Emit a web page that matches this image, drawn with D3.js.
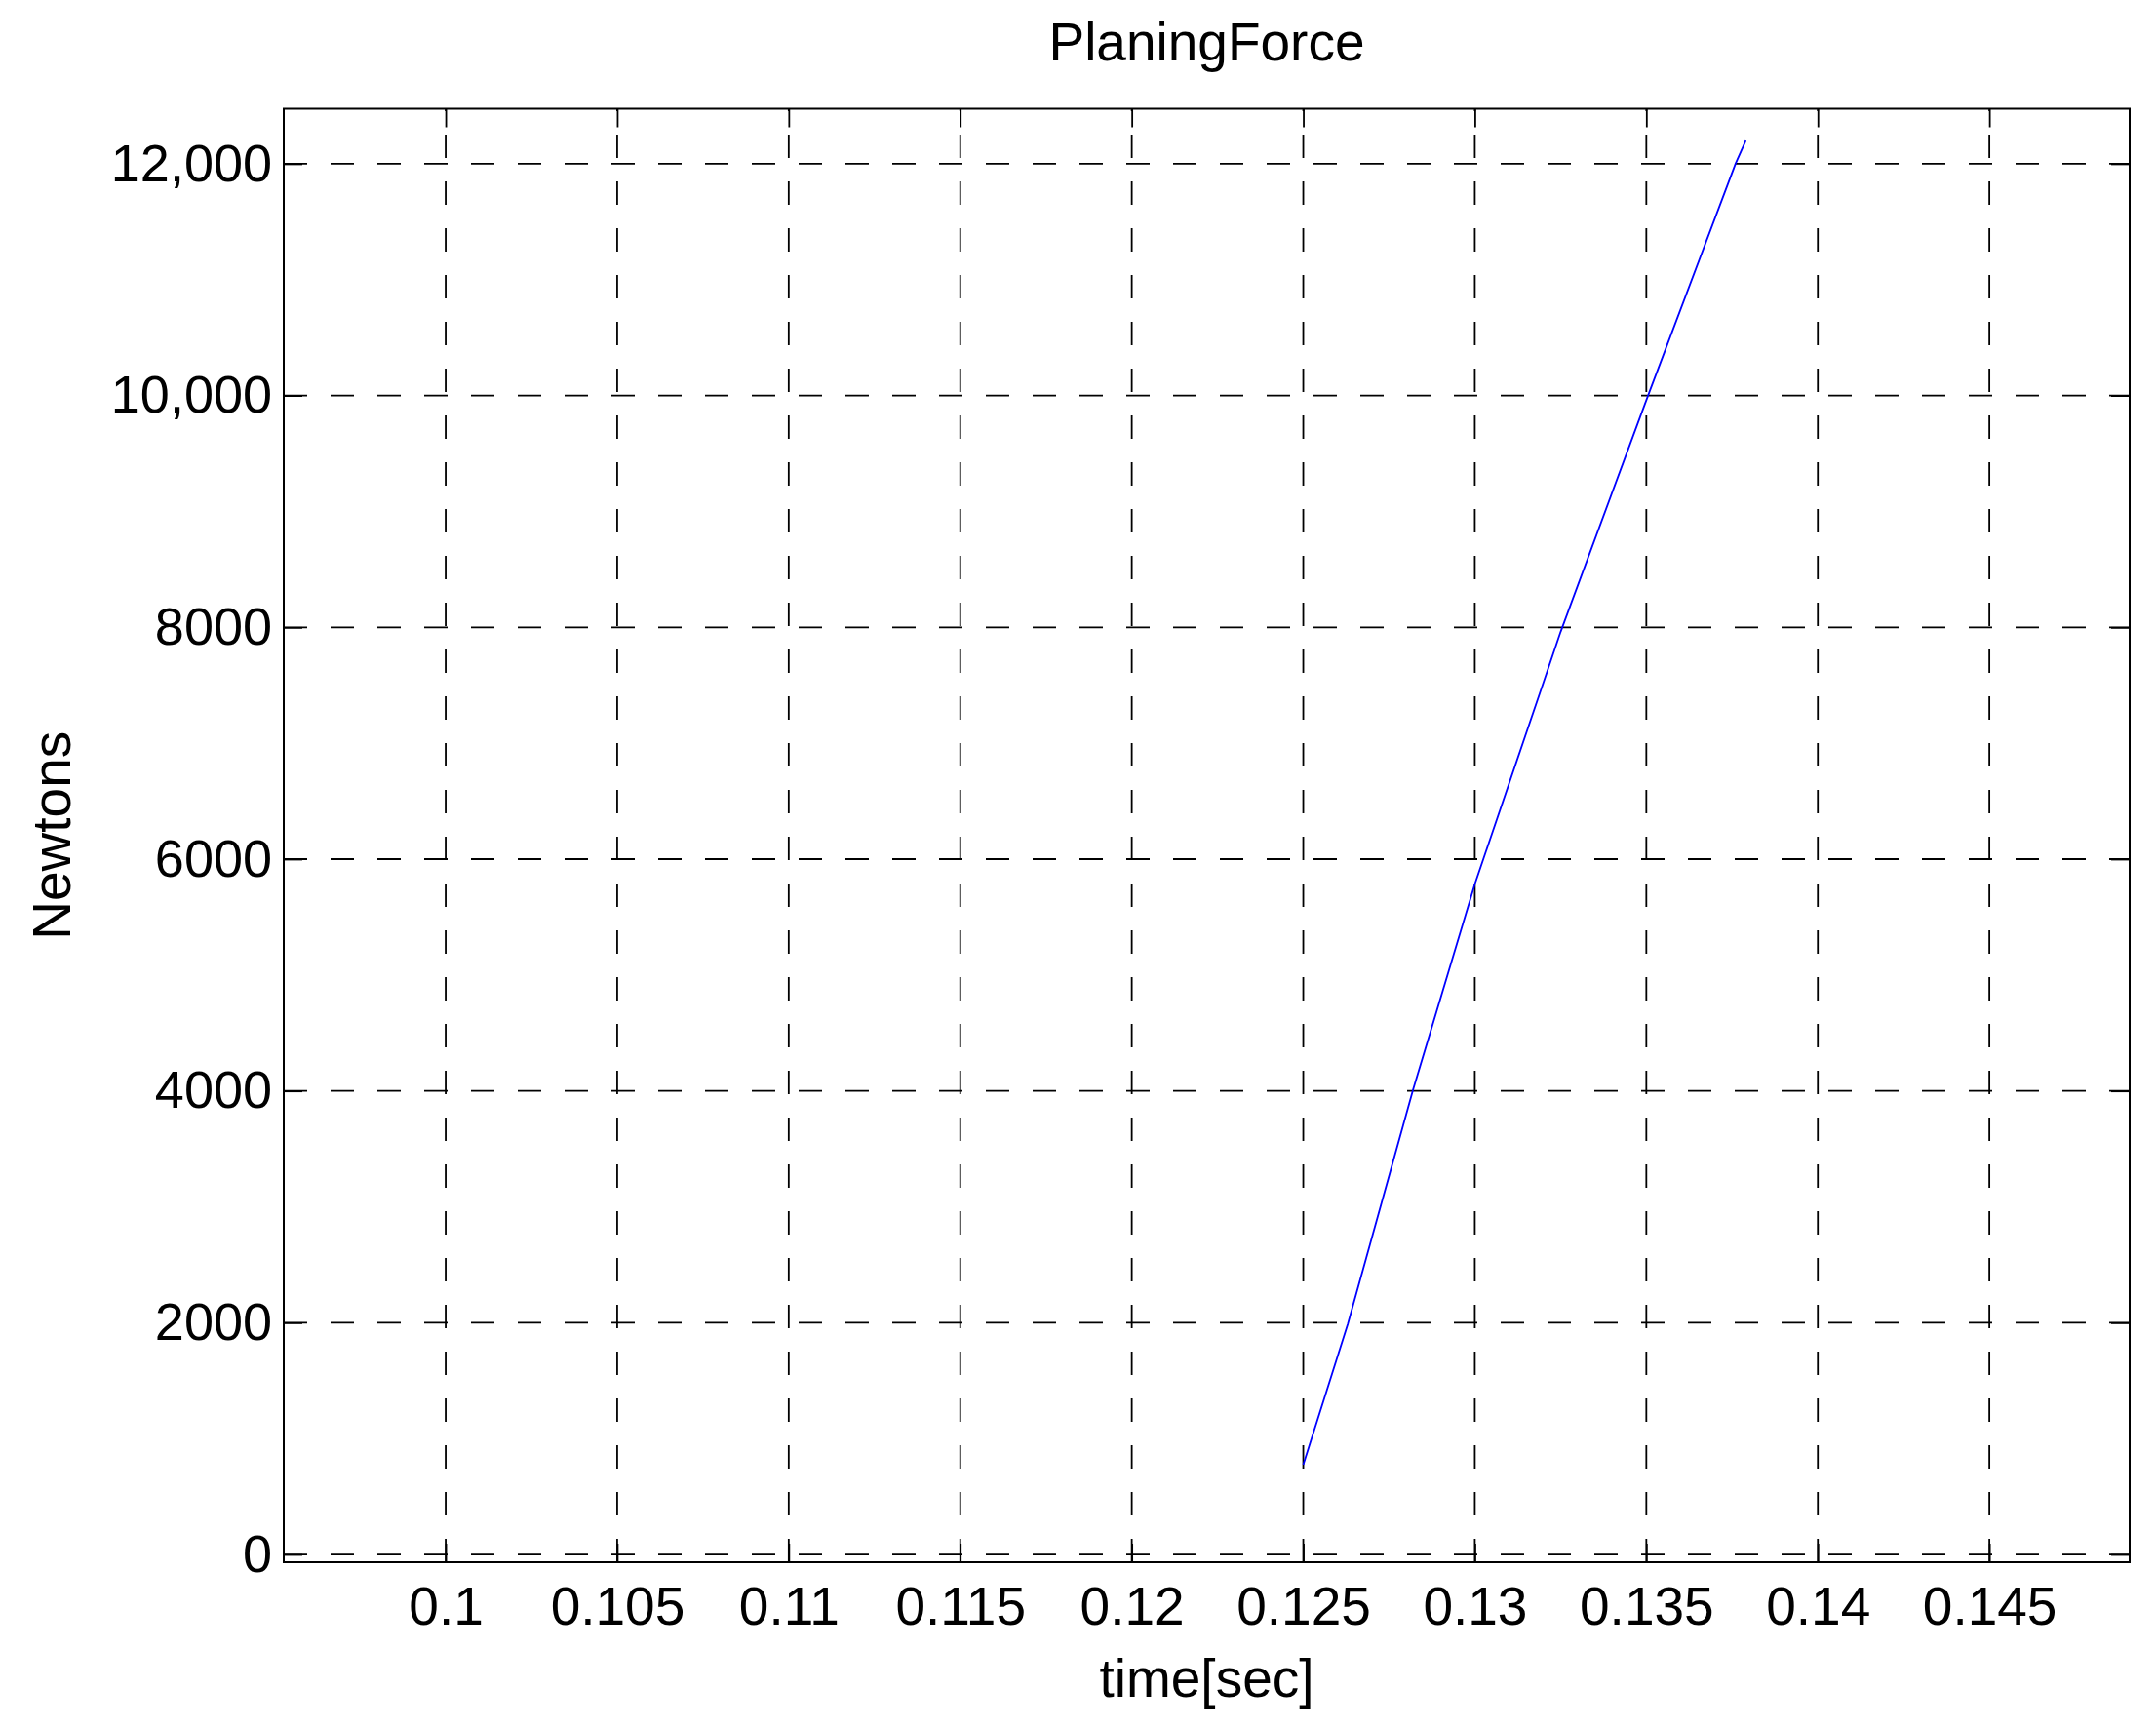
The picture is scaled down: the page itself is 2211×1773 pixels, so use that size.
<!DOCTYPE html>
<html>
<head>
<meta charset="utf-8">
<script src="https://cdn.jsdelivr.net/npm/d3@7"></script>
<style>
  html, body { margin: 0; padding: 0; background: #fff; }
  svg { display: block; }
  text { font-family: "Liberation Sans", Arial, sans-serif; fill: #000; }
</style>
</head>
<body>
<svg id="chart" width="2211" height="1773"></svg>
<script>
// ---- data ----
const timeSec = [0.1250, 0.1263, 0.1282, 0.1300, 0.1320, 0.1325, 0.1350, 0.1376, 0.1379];
const planingForce = [775, 1990, 4010, 5784, 7523, 7960, 9960, 12000, 12200];
const xTicks = [0.1, 0.105, 0.11, 0.115, 0.12, 0.125, 0.13, 0.135, 0.14, 0.145];
const xTickLabels = ["0.1", "0.105", "0.11", "0.115", "0.12", "0.125", "0.13", "0.135", "0.14", "0.145"];
const yTicks = [0, 2000, 4000, 6000, 8000, 10000, 12000];
const yTickLabels = ["0", "2000", "4000", "6000", "8000", "10,000", "12,000"];
const xLim = [0.09528, 0.14909];
const yLim = [-67, 12475];
const titleText = "PlaningForce";
const xLabelText = "time[sec]";
const yLabelText = "Newtons";

// ---- layout ----
const pLeft = 291, pRight = 2184, pTop = 111.5, pBottom = 1602;
const svg = d3.select("#chart");

const x = d3.scaleLinear().domain(xLim).range([pLeft, pRight]);
const y = d3.scaleLinear().domain(yLim).range([pBottom, pTop]);

// grid lines
const grid = svg.append("g").attr("stroke", "#000").attr("stroke-width", 1.8)
  .attr("stroke-dasharray", "24,24").attr("fill", "none");
grid.selectAll("line.v").data(xTicks).join("line")
  .attr("class", "v")
  .attr("x1", d => x(d)).attr("x2", d => x(d))
  .attr("y1", pBottom).attr("y2", pTop);
grid.selectAll("line.h").data(yTicks).join("line")
  .attr("class", "h")
  .attr("x1", pLeft).attr("x2", pRight)
  .attr("y1", d => y(d)).attr("y2", d => y(d));

// axes (ticks inward, labels)
const tickLen = 19;
const xAxisB = d3.axisBottom(x).tickValues(xTicks).tickFormat((d, i) => xTickLabels[i])
  .tickSizeInner(-tickLen).tickSizeOuter(0).tickPadding(25);
const gx = svg.append("g").attr("transform", `translate(0,${pBottom})`).call(xAxisB);
gx.select(".domain").remove();
gx.selectAll("line").attr("stroke", "#000").attr("stroke-width", 1.8);
gx.selectAll("text").attr("font-size", 55).attr("font-family", "Liberation Sans, Arial, sans-serif")
  .attr("fill", "#000");

const yAxisL = d3.axisLeft(y).tickValues(yTicks).tickFormat((d, i) => yTickLabels[i])
  .tickSizeInner(-tickLen).tickSizeOuter(0).tickPadding(12);
const gy = svg.append("g").attr("transform", `translate(${pLeft},0)`).call(yAxisL);
gy.select(".domain").remove();
gy.selectAll("line").attr("stroke", "#000").attr("stroke-width", 1.8);
gy.selectAll("text").attr("font-size", 54).attr("font-family", "Liberation Sans, Arial, sans-serif")
  .attr("fill", "#000");

// mirrored ticks on top and right
const xAxisT = d3.axisTop(x).tickValues(xTicks).tickFormat("").tickSizeInner(-tickLen).tickSizeOuter(0);
const gxt = svg.append("g").attr("transform", `translate(0,${pTop})`).call(xAxisT);
gxt.select(".domain").remove();
gxt.selectAll("line").attr("stroke", "#000").attr("stroke-width", 1.8);
const yAxisR = d3.axisRight(y).tickValues(yTicks).tickFormat("").tickSizeInner(-tickLen).tickSizeOuter(0);
const gyr = svg.append("g").attr("transform", `translate(${pRight},0)`).call(yAxisR);
gyr.select(".domain").remove();
gyr.selectAll("line").attr("stroke", "#000").attr("stroke-width", 1.8);

// data line
const line = d3.line().x((d, i) => x(timeSec[i])).y(d => y(d));
svg.append("path").datum(planingForce)
  .attr("d", line)
  .attr("fill", "none").attr("stroke", "#0000ff").attr("stroke-width", 1.8);

// box
svg.append("rect").attr("x", pLeft).attr("y", pTop)
  .attr("width", pRight - pLeft).attr("height", pBottom - pTop)
  .attr("fill", "none").attr("stroke", "#000").attr("stroke-width", 2);

// title & labels
svg.append("text").attr("x", (pLeft + pRight) / 2).attr("y", 62)
  .attr("text-anchor", "middle").attr("font-size", 55).text(titleText);
svg.append("text").attr("x", (pLeft + pRight) / 2).attr("y", 1740)
  .attr("text-anchor", "middle").attr("font-size", 55).text(xLabelText);
svg.append("text")
  .attr("transform", `translate(72,${(pTop + pBottom) / 2}) rotate(-90)`)
  .attr("text-anchor", "middle").attr("font-size", 55).text(yLabelText);
</script>
</body>
</html>
